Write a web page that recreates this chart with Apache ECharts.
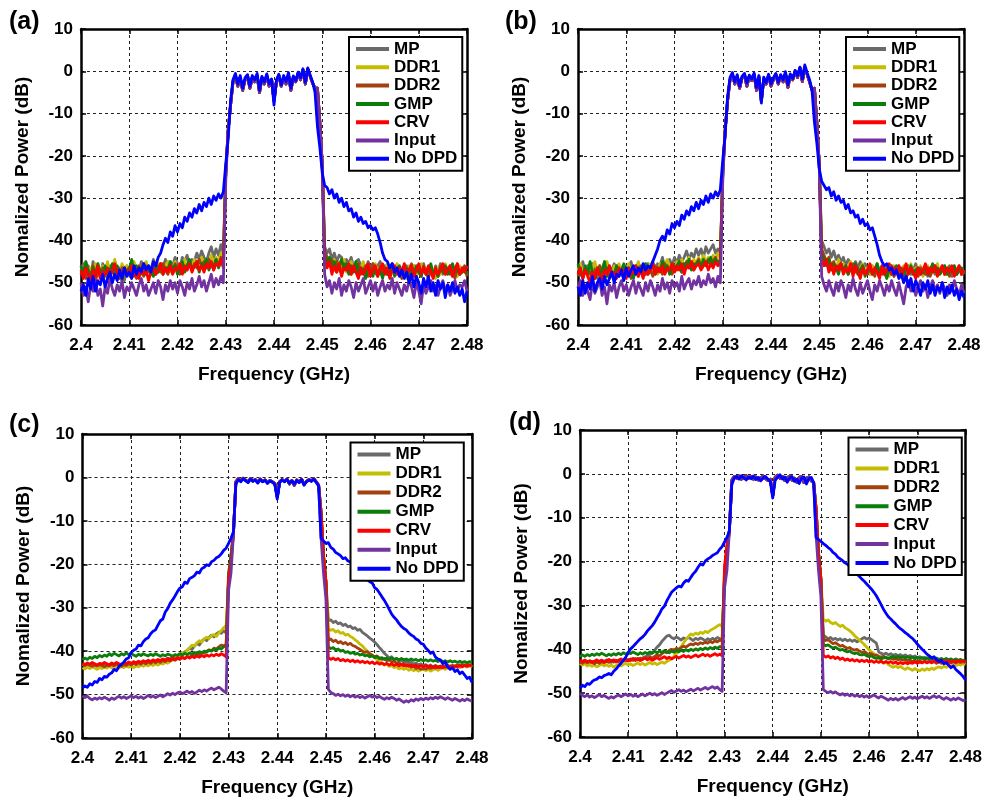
<!DOCTYPE html>
<html>
<head>
<meta charset="utf-8">
<title>DPD spectra</title>
<script src="https://cdn.jsdelivr.net/npm/echarts@6/dist/echarts.min.js"></script>
<style>
  html, body { margin: 0; padding: 0; background: #fff; }
  #chart { width: 985px; height: 807px; }
</style>
</head>
<body>
<div id="chart"></div>
<script>
// Legend names and line colours, in drawing order (last one on top)
const seriesNames = ['MP', 'DDR1', 'DDR2', 'GMP', 'CRV', 'Input', 'No DPD'];
const seriesColors = ['#6a6a6a', '#c4bd00', '#a3400c', '#0b7d0b', '#ff0000', '#7232a0', '#0000ff'];

// Frequency axis in MHz, labelled in GHz
const freqTicks = [2400, 2410, 2420, 2430, 2440, 2450, 2460, 2470, 2480];
const powerTicks = [-60, -50, -40, -30, -20, -10, 0, 10];

// Each trace is stored in three pieces, 0.5 MHz apart:
//   Lo   : 2400.0 .. 2430.5 MHz (62 values)
//   Band : 2431.0 .. 2448.5 MHz (36 values)
//   Hi   : 2449.0 .. 2480.0 MHz (63 values)

// ---------- (a) ----------
const aMpLo = [-47,-45.5,-48,-46,-49,-45,-47.5,-46,-48.5,-45.5,-47,-49,-46,-47.5,-45,-48,-46.5,-47,-49.5,-46,-47,-45.5,-48,-46.5,-47.5,-45,-46.5,-48,-46,-47,-44.5,-46,-47.5,-45.5,-46.5,-44.5,-47,-45,-46,-44,-45.5,-46.5,-44,-45,-43.5,-46,-44.5,-45,-43,-44.5,-42.5,-44,-45,-43,-41.5,-44,-42,-43.5,-41,-43,-24,-14];
const aDdr1Lo = [-46,-48,-45,-47.5,-46.5,-48.5,-45.5,-47,-49,-46,-47.5,-45,-48,-46.5,-44.5,-47,-48,-45.5,-47,-46,-48.5,-46,-45,-47.5,-46,-48,-46.5,-45,-47,-48,-46,-47.5,-45.5,-47,-48,-46,-45,-47.5,-46.5,-45,-47,-45.5,-46.5,-44.5,-47,-45.5,-46,-44.5,-46.5,-45,-44,-46,-44.5,-45.5,-43.5,-45.5,-44,-45,-43,-44.5,-24,-14];
const aDdr2Lo = [-48,-46.5,-49,-47,-48.5,-46,-49.5,-47.5,-48,-46.5,-48.5,-47,-49,-46,-48,-47.5,-49,-46.5,-48,-47,-46.5,-48.5,-47,-49,-46,-47.5,-48.5,-46,-47,-48,-46.5,-48,-46,-47.5,-45.5,-47,-48,-46,-47,-45.5,-46.5,-48,-45.5,-47,-46,-45,-47,-45.5,-46.5,-44.5,-46,-45,-46.5,-44.5,-45.5,-47,-44.5,-46,-44,-45,-24,-14];
const aGmpLo = [-46,-48.5,-45,-47,-49,-46.5,-48,-45.5,-47.5,-49,-46,-48,-47,-45.5,-48.5,-46,-47.5,-49.5,-46.5,-48,-47,-44.5,-47.5,-46,-48.5,-47,-45.5,-48,-47,-46.5,-48.5,-46,-47.5,-45.5,-48,-46.5,-47,-45,-47.5,-46,-48,-46.5,-45,-47.5,-46,-44.5,-47,-46,-45,-47.5,-45.5,-46.5,-44.5,-47,-45.5,-46,-44.5,-46.5,-45,-46,-24,-14];
const aCrvLo = [-47,-49,-46.5,-48,-50,-47,-48.5,-46,-49,-47.5,-48,-46.5,-49,-47,-45.5,-48,-47,-49,-46.5,-48,-47.5,-46,-48.5,-47,-49,-46.5,-48,-47,-49.5,-47.5,-46.5,-48,-47,-45.5,-48,-46.5,-47.5,-46,-48,-46.5,-47,-45.5,-48,-46,-47,-45.5,-47.5,-46,-45,-47,-46,-47.5,-45.5,-46.5,-45,-47,-45.5,-46,-44.5,-46.5,-24,-14];
const aInputLo = [-50,-53,-51,-54.5,-50.5,-52,-49.5,-53,-51.5,-55.5,-51,-52.5,-49,-51.5,-53,-50.5,-52,-49.5,-53.5,-51,-52,-50,-51.5,-53,-50.5,-49,-52,-50.5,-53,-51.5,-50,-52.5,-49.5,-51,-54,-50.5,-52,-49.5,-51.5,-50,-52.5,-49.5,-51,-53,-50,-51.5,-49,-52,-50.5,-48.5,-51,-49.5,-52,-50,-48,-51,-49,-50.5,-48.5,-50,-26,-14];
const aNoDpdLo = [-52,-50.5,-53,-49,-51.5,-48.5,-52,-49.5,-50.5,-48,-51,-49,-47.5,-50,-48,-49.5,-47,-49,-46.5,-48.5,-47.5,-49,-46,-48,-46.5,-47.5,-45.5,-47,-46,-47.5,-45,-46,-44,-43,-41,-39.5,-40.5,-38,-39,-36.5,-38,-36,-37,-34.5,-35.5,-33.5,-34.5,-32.5,-33.5,-31.5,-33,-31,-32,-30,-31.5,-29.5,-30.5,-29,-30,-28.5,-22,-16];
const aBand = [-8,-2.5,-1,-3.5,-1.5,-4.5,-2,-1,-4,-1.5,-2.5,-1,-5,-1.5,-3,-1,-3.5,-2,-7,-2.5,-1,-3.5,-1.5,-3,-0.8,-4.5,-1.5,-2.5,-0.5,-2,0.3,-3,0.5,-1.2,-2.8,-4];
const aNoDpdBand = [-7,-2,-0.5,-3,-1,-4,-1.5,-0.8,-3.5,-1,-2,-0.5,-4.5,-1.2,-2.5,-0.6,-3,-1.8,-8,-2,-0.7,-3.2,-1,-2.4,-0.3,-4,-1.1,-2.2,-0.2,-1.5,0.6,-2.6,0.8,-0.9,-2.5,-5];
const aMpHi = [-4,-12,-22,-41.5,-43,-42,-44.5,-43,-45,-43.5,-44,-46,-44.5,-45.5,-44,-46.5,-45,-44.5,-46,-45.5,-47,-45,-46.5,-45.5,-47,-46,-45,-47.5,-46,-48,-46.5,-45.5,-47,-46,-48,-46.5,-47.5,-46,-48.5,-47,-46,-48,-46.5,-47.5,-45.5,-48,-47,-46.5,-48.5,-46,-47.5,-45.5,-48,-46.5,-47.5,-46,-48.5,-47,-45.5,-48,-46.5,-47.5,-46];
const aDdr1Hi = [-4,-12,-22,-43,-45,-44,-46,-44.5,-47,-45,-46.5,-44.5,-47.5,-46,-45,-47,-45.5,-48,-46.5,-45,-47.5,-46,-48,-46.5,-45.5,-47.5,-46,-48.5,-47,-45.5,-48,-46.5,-47,-45.5,-48,-46.5,-47.5,-49,-46,-47.5,-46,-48.5,-47,-45.5,-47.5,-46.5,-48,-46,-47.5,-49,-46.5,-48,-47,-45.5,-47.5,-46,-48,-46.5,-48.5,-46,-47.5,-46.5,-48];
const aDdr2Hi = [-4,-12,-22,-42.5,-44,-46,-44.5,-47,-45,-46.5,-48,-45.5,-47,-46,-48,-46.5,-47.5,-45.5,-48,-47,-46,-48.5,-47,-45.5,-47.5,-48.5,-46,-47.5,-46.5,-48,-47,-45.5,-48,-46.5,-47.5,-49,-46.5,-48,-47,-45.5,-48.5,-46.5,-47.5,-48.5,-46,-47.5,-49,-46.5,-48,-47,-48.5,-46,-47.5,-48,-46.5,-48,-47,-49,-46.5,-48,-47.5,-46,-48.5];
const aGmpHi = [-4,-12,-22,-43.5,-45.5,-44,-46.5,-45,-47.5,-46,-44.5,-47,-45.5,-48,-46,-47.5,-45,-48,-46.5,-47,-49,-46,-47.5,-48.5,-46.5,-48,-47,-49,-46.5,-48,-47.5,-46,-48.5,-47,-46,-48,-47.5,-46.5,-49,-47,-48,-46,-47.5,-48.5,-46.5,-48,-47,-45.5,-48,-47,-48.5,-46.5,-47.5,-46,-48,-47,-45.5,-47.5,-46.5,-48,-47,-46.5,-48];
const aCrvHi = [-4,-12,-22,-44,-46.5,-45,-48,-46,-47.5,-45.5,-48.5,-46.5,-47,-45.5,-48,-46,-47.5,-49,-46.5,-48,-47,-45.5,-48.5,-47,-46,-48.5,-47,-45.5,-48,-46.5,-49,-47,-46,-48,-46.5,-47.5,-45.5,-48,-47,-46,-48.5,-47,-45.5,-48,-46.5,-48,-46,-47.5,-49,-46.5,-48,-47,-45.5,-48,-47,-46,-48.5,-47,-45.5,-48,-46.5,-47.5,-46];
const aInputHi = [-4,-12,-22,-48,-51,-49.5,-52.5,-50,-51.5,-49,-53,-50.5,-52,-49.5,-51,-53.5,-50,-52,-50.5,-49,-52.5,-51,-49.5,-52,-50,-53,-51,-49.5,-52,-50.5,-51.5,-49,-52.5,-50,-51.5,-53,-50.5,-52,-49.5,-51,-53.5,-50,-52,-55,-50.5,-52.5,-51,-49.5,-52,-50.5,-53,-51,-49.5,-52,-50.5,-53,-51.5,-49.5,-52,-50.5,-51,-49.5,-52];
const aNoDpdHi = [-13,-18,-24,-27,-27.5,-29,-28,-30,-29,-31,-30,-32,-31,-33,-32.5,-34.5,-33.5,-35.5,-34.5,-36,-35.5,-37,-36.5,-37.5,-37,-38.5,-40.5,-43,-44.5,-45,-46.5,-45.5,-47.5,-46.5,-48.5,-47,-49,-47.5,-50,-48,-51,-48.5,-50,-52.5,-49,-51,-48.5,-52,-50,-53,-49.5,-51.5,-50,-53.5,-50.5,-52,-50,-52.5,-51,-53,-51.5,-54.5,-52];

// ---------- (b) ----------
const bMpLo = [-46.5,-48,-45,-47.5,-46,-48.5,-45.5,-47,-49,-46,-47.5,-45,-48,-46.5,-47,-45.5,-48,-46,-47.5,-49,-46,-47,-45,-48,-46.5,-45.5,-47.5,-46,-48,-45.5,-46.5,-45,-47,-45.5,-46,-44,-46.5,-45,-44.5,-46,-44,-45.5,-43.5,-45,-44,-42.5,-44.5,-43,-44,-42,-43.5,-42,-44,-41.5,-43,-42,-41,-43,-42,-43.5,-24,-14];
const bDdr1Lo = [-47,-45.5,-48,-46,-47.5,-49,-46.5,-45,-47.5,-46,-48,-46.5,-45,-47,-48.5,-46,-47,-45.5,-48,-46.5,-47.5,-45.5,-48,-46,-47,-45,-47.5,-46.5,-48,-46,-45.5,-47,-46,-48,-45.5,-47,-46,-44.5,-46.5,-45.5,-47,-45,-46,-44.5,-46.5,-45,-44,-46,-44.5,-45.5,-44,-45.5,-43.5,-45,-44,-45.5,-43.5,-44.5,-43,-44.5,-24,-14];
const bDdr2Lo = [-48.5,-47,-49,-46.5,-48,-47.5,-49.5,-47,-48,-46,-48.5,-47,-46.5,-49,-47.5,-48,-46,-48.5,-47,-46.5,-48,-47,-49,-46.5,-47.5,-48.5,-46,-47.5,-48,-46.5,-47,-48.5,-46,-47.5,-46.5,-48,-45.5,-47,-46.5,-48,-46,-47,-45.5,-47.5,-46,-45,-46.5,-45,-47,-45.5,-44.5,-46.5,-45,-46,-44.5,-46,-45,-44,-45.5,-44.5,-24,-14];
const bGmpLo = [-45.5,-47.5,-49,-46,-48,-45,-47.5,-49,-46.5,-48,-47,-45,-48.5,-46,-47.5,-49,-46,-48,-47,-45.5,-48,-46.5,-47.5,-49,-46,-48,-46.5,-47.5,-45.5,-48,-47,-45.5,-48,-46.5,-47,-45,-47.5,-46,-48,-45.5,-47,-46,-45,-47.5,-45.5,-46.5,-44.5,-47,-45.5,-46,-45,-46.5,-44.5,-46,-45,-44,-46,-44.5,-45.5,-44.5,-24,-14];
const bCrvLo = [-48,-46.5,-49,-47,-48.5,-50,-47.5,-49,-46.5,-48,-49.5,-47,-48,-46,-48.5,-47.5,-49,-46.5,-48,-47,-49,-46.5,-48,-47.5,-46,-48.5,-47,-49,-46.5,-48,-47,-45.5,-48,-46.5,-47.5,-46,-48,-46.5,-47,-45.5,-47.5,-46,-47,-45.5,-48,-46,-46.5,-45,-47,-46,-45.5,-47,-46,-45,-47,-45.5,-46.5,-45,-46,-45.5,-24,-14];
const bInputLo = [-51,-49.5,-53,-50.5,-52,-54,-50,-52.5,-51,-49.5,-53,-51,-55,-50.5,-52,-50,-53.5,-51,-49.5,-52,-50.5,-53,-51,-49.5,-52.5,-50,-51.5,-53,-50,-52,-49.5,-51,-53,-50.5,-52,-49,-51.5,-50,-52.5,-49.5,-51,-50,-52,-48.5,-51.5,-50,-49,-51.5,-49.5,-50.5,-48.5,-51,-49.5,-50.5,-48,-50,-49,-51,-48.5,-50,-26,-14];
const bNoDpdLo = [-51,-53,-49.5,-52.5,-50,-51.5,-48.5,-52,-50,-49,-51.5,-48.5,-50.5,-49,-47.5,-50,-48,-48.5,-47,-49.5,-46.5,-48.5,-47,-46,-48,-46.5,-47.5,-45.5,-47,-46,-46.5,-45,-43.5,-42,-40,-39,-40,-37.5,-38.5,-36,-37,-35.5,-36.5,-34,-35,-33,-34,-32,-33,-31,-32.5,-30.5,-31.5,-29.5,-31,-29,-30,-28.5,-29.5,-28,-21,-15];
const bBand = [-7,-2,-0.8,-3,-1.2,-4,-1.5,-0.8,-3.5,-1.2,-2.2,-0.8,-4.5,-1.3,-7,-1.8,-3,-1,-3.5,-2,-0.8,-3,-1,-2.5,-0.5,-3.8,-1,-2,0,-1.5,0.8,-2.4,1,-0.8,-2.5,-4.5];
const bNoDpdBand = [-6,-1.5,-0.3,-2.5,-0.8,-3.5,-1.2,-0.5,-2.8,-0.9,-1.8,-0.4,-3.8,-1,-7.5,-1.4,-2.6,-0.7,-3,-1.5,-0.5,-2.6,-0.8,-2,-0.1,-3.2,-0.6,-1.7,0.2,-1,1,-1.8,1.5,-0.4,-2,-4.5];
const bMpHi = [-4,-12,-22,-40,-41.5,-43,-42,-44,-42.5,-44.5,-43.5,-45,-44,-46,-44.5,-45.5,-47,-45,-46.5,-45,-47,-45.5,-46.5,-48,-46,-47,-45.5,-47.5,-46,-48,-46.5,-47.5,-46,-48.5,-47,-46,-48,-46.5,-47.5,-46,-48,-47,-45.5,-48,-46.5,-47.5,-46,-48.5,-47,-46,-48,-46.5,-47.5,-46,-48,-47,-46,-48.5,-46.5,-47.5,-46,-48,-47];
const bDdr1Hi = [-4,-12,-22,-42.5,-44,-45.5,-44,-46.5,-45,-47,-44.5,-46.5,-45.5,-47.5,-46,-45,-47.5,-46,-48,-46.5,-45.5,-47.5,-46.5,-48,-46,-47,-45.5,-48,-46.5,-47.5,-46,-48.5,-47,-46,-48,-46.5,-47.5,-46,-48,-47,-45.5,-48,-46.5,-47.5,-46,-48.5,-47,-46,-48,-46.5,-47.5,-45.5,-48,-47,-46,-48,-46.5,-47.5,-46,-48,-47,-46.5,-48];
const bDdr2Hi = [-4,-12,-22,-42,-43.5,-45,-44,-46.5,-45,-47,-46,-45.5,-47.5,-46,-48,-46.5,-45.5,-47.5,-46.5,-48.5,-46,-47.5,-48,-46.5,-47,-48.5,-46,-47.5,-48,-46.5,-48,-47,-46,-48.5,-47,-48,-46.5,-47.5,-49,-47,-46.5,-48,-47,-48.5,-46.5,-47.5,-48,-46.5,-48.5,-47,-46,-48,-47.5,-46.5,-48,-47,-48.5,-46.5,-47.5,-48,-46.5,-48,-47.5];
const bGmpHi = [-4,-12,-22,-43,-44.5,-46,-44.5,-47,-45.5,-46.5,-48,-45.5,-47,-46,-48,-46.5,-47.5,-45.5,-48,-47,-46,-48.5,-47,-46.5,-48,-47,-45.5,-48,-46.5,-47.5,-49,-46.5,-48,-47,-46,-48,-47,-48.5,-46.5,-47.5,-46,-48,-47,-46.5,-48,-47.5,-46,-48,-47,-45.5,-47.5,-46.5,-48,-47,-46,-48,-46.5,-47.5,-46,-48,-47,-46.5,-48];
const bCrvHi = [-4,-12,-22,-44.5,-46,-44.5,-47.5,-45.5,-48,-46,-47,-45.5,-48,-46.5,-47.5,-45.5,-48.5,-46,-47.5,-49,-46.5,-48,-47,-45.5,-48,-46.5,-47.5,-49,-46,-48,-47,-45.5,-48,-46.5,-47.5,-46,-48.5,-47,-45.5,-48,-46.5,-47.5,-49,-46.5,-48,-47,-45.5,-48,-46.5,-47.5,-46,-48.5,-47,-46,-48,-46.5,-47.5,-46,-48.5,-47,-46,-48,-47];
const bInputHi = [-4,-12,-22,-48.5,-50.5,-52,-49.5,-51.5,-53,-50,-52,-49.5,-51,-53.5,-50.5,-52,-49,-51.5,-53,-50,-52.5,-51,-49.5,-52,-54,-50.5,-52,-49.5,-51,-53,-50.5,-52,-49.5,-51.5,-53,-50,-52.5,-55,-51,-49.5,-52,-50.5,-53,-51,-49.5,-52,-50.5,-53.5,-51,-49.5,-52,-50.5,-52.5,-50,-51.5,-53,-50.5,-52,-49.5,-51.5,-53,-50.5,-52.5];
const bNoDpdHi = [-12,-17,-23,-26,-27,-28,-27.5,-29.5,-28.5,-30.5,-29.5,-31,-30.5,-32.5,-31.5,-33.5,-33,-34.5,-34,-36,-35,-36.5,-36,-37.5,-37,-39,-41,-43.5,-45,-46,-45.5,-47,-46.5,-48,-47,-49,-48,-50,-48.5,-51,-49,-52,-49.5,-51,-53,-50,-51.5,-49.5,-52.5,-50.5,-53,-51,-52,-50,-53.5,-51,-52.5,-50.5,-53,-51.5,-54,-52,-53.5];

// ---------- (c) ----------
const cMpLo = [-43,-43.4,-43.1,-43.5,-43.2,-43.6,-43.3,-43.5,-43.1,-43.4,-43,-43.3,-43.6,-43.2,-43.5,-43.1,-43.3,-42.9,-43.2,-42.8,-43.1,-42.7,-43,-42.6,-42.9,-42.5,-42.8,-42.4,-42.6,-42.2,-42.5,-42.1,-42.3,-41.9,-42.1,-41.6,-41.8,-41.3,-41.5,-41,-41.2,-40.6,-40.2,-39.8,-39.3,-39.6,-38.8,-38.2,-38.6,-37.7,-37.2,-37.6,-36.8,-36.3,-36.7,-36,-35.6,-35.9,-35.3,-35.8,-24,-18];
const cDdr1Lo = [-43.8,-44.1,-43.7,-44,-43.6,-43.9,-44.2,-43.8,-44,-43.6,-43.9,-43.5,-43.8,-44.1,-43.7,-43.9,-43.5,-43.8,-43.4,-43.7,-43.5,-43.8,-43.4,-43.6,-43.2,-43.5,-43.1,-43.4,-43,-43.3,-42.9,-43.2,-42.8,-43,-42.6,-42.8,-42.3,-42,-41.6,-41.2,-40.8,-40.3,-40.6,-39.8,-39.2,-38.6,-38.9,-38.1,-37.6,-37.9,-37.2,-36.8,-37.1,-36.4,-36.2,-36.6,-35.8,-35.3,-34.6,-34.1,-24,-18];
const cDdr2Lo = [-43,-43.3,-42.9,-43.2,-43.5,-43.1,-43.4,-43,-43.3,-43.6,-43.2,-43.4,-43,-43.3,-42.9,-43.2,-43.5,-43.1,-43.3,-42.9,-43.2,-42.8,-43.1,-42.7,-43,-42.6,-42.9,-42.5,-42.8,-42.4,-42.7,-42.3,-42.6,-42.2,-42.4,-42,-42.3,-41.9,-42.1,-41.7,-41.9,-41.5,-41.7,-41.2,-41.4,-40.9,-41.1,-40.6,-40.8,-40.3,-40.5,-40,-39.7,-39.9,-39.3,-39.5,-39,-38.6,-38.8,-38.5,-23,-18];
const cGmpLo = [-42,-41.6,-41.9,-41.4,-41.7,-41.2,-41.5,-41,-41.3,-40.9,-41.2,-40.6,-41,-40.5,-40.8,-41.1,-40.6,-40.9,-40.4,-40.8,-40.5,-40.9,-41.2,-40.7,-41,-40.6,-40.9,-41.1,-40.7,-41,-40.6,-40.9,-41.2,-40.8,-41.1,-40.7,-40.9,-41.2,-40.8,-41,-40.6,-40.9,-40.5,-40.8,-40.4,-40.7,-40.3,-40.5,-40.1,-40.4,-40,-40.2,-39.8,-40,-39.6,-39.8,-39.3,-39.5,-39,-38.8,-22,-18];
const cCrvLo = [-42.8,-43.1,-42.7,-43,-42.6,-42.9,-43.2,-42.8,-43,-42.6,-42.9,-43.2,-42.7,-43,-42.6,-42.9,-43.1,-42.7,-42.9,-42.5,-42.8,-42.4,-42.7,-42.3,-42.6,-42.2,-42.5,-42.1,-42.4,-42,-42.3,-41.9,-42.2,-41.8,-42.1,-41.7,-42,-41.6,-41.9,-41.5,-41.8,-41.4,-41.7,-41.3,-41.6,-41.2,-41.5,-41.1,-41.4,-41,-41.3,-40.9,-41.2,-40.8,-41.1,-40.7,-41,-40.6,-40.9,-41.3,-23,-19.5];
const cInputLo = [-50.3,-50.7,-50.4,-50.9,-51.2,-50.8,-51.1,-50.7,-51,-50.6,-50.9,-51.3,-50.8,-51.1,-50.7,-50.4,-50.8,-50.5,-50.9,-50.6,-50.3,-50.7,-50.4,-50.8,-50.5,-50.9,-50.6,-50.2,-50.6,-50.3,-50.7,-50.4,-50.1,-50.5,-50.2,-49.8,-50.1,-49.7,-50,-49.6,-49.4,-49.8,-49.5,-49.2,-49.6,-49.3,-49.7,-49.4,-49,-49.3,-48.9,-49.2,-48.8,-48.5,-48.9,-48.6,-48.3,-48.7,-49.2,-49.6,-26,-22];
const cNoDpdLo = [-48.5,-48,-48.3,-47.5,-47.8,-47,-47.2,-46.3,-46.6,-45.8,-46,-45.3,-45,-44.2,-44.5,-43.5,-43,-42.5,-41.8,-41.5,-40.3,-39.8,-39.5,-38.6,-38.8,-37.8,-37.2,-36.9,-36,-35.4,-35.1,-34,-33,-32.6,-31,-30.2,-29,-28.2,-27.3,-26.3,-25.5,-25.2,-24.1,-24.4,-23.3,-23,-22.6,-21.8,-22,-21,-20.7,-20.1,-20.3,-19.4,-19.1,-18.5,-18.2,-17.6,-16.8,-16.3,-15.2,-14];
const cBand = [-13,-1,-0.3,-0.8,-0.2,-0.6,-1,-0.3,-0.8,-0.5,-1.1,-0.4,-0.9,-0.6,-1.2,-0.7,-1,-1.4,-4.5,-1,-0.5,-0.9,-0.4,-1.5,-0.7,-1.8,-0.6,-1.1,-0.4,-1.6,-0.9,-0.5,-0.8,-0.3,-1,-1.8];
const cNoDpdBand = [-12.5,-1.5,-0.5,-1,-0.3,-0.8,-1.2,-0.4,-0.9,-0.6,-1.3,-0.5,-1,-0.7,-1.4,-0.8,-1.1,-1.6,-5,-1.2,-0.6,-1,-0.5,-1.3,-0.8,-1.5,-0.7,-1.2,-0.5,-1.8,-1,-0.6,-0.9,-0.4,-1.1,-2];
const cMpHi = [-8,-18,-24,-33,-32.8,-33.4,-33.1,-33.7,-33.5,-34.1,-33.8,-34.4,-34.2,-34.8,-34.6,-35.2,-35,-35.7,-36.1,-36.5,-37,-37.4,-37.9,-38.5,-39.2,-39.8,-40.5,-41,-41.6,-41.3,-42,-41.7,-42.3,-42,-42.6,-42.3,-42.8,-42.5,-43,-42.7,-43.2,-42.9,-43.4,-43.1,-43.5,-43.2,-43.6,-43.3,-43.7,-43.4,-43.8,-43.5,-43.2,-43.6,-43.3,-43.7,-43.4,-43.1,-43.5,-43.2,-43.6,-43.3,-43.5];
const cDdr1Hi = [-8,-18,-24,-34.8,-35.2,-35,-35.6,-35.3,-35.9,-35.7,-36.3,-36.1,-36.6,-36.9,-37.4,-37.8,-38.4,-38.8,-39.5,-40,-40.6,-41.1,-41.5,-42,-42.4,-42.9,-43.2,-43,-43.5,-43.3,-43.8,-43.6,-44.1,-43.8,-44.2,-43.9,-44.4,-44.1,-44.5,-44.2,-44.6,-44.3,-44.1,-44.5,-44.2,-44.6,-44.3,-44,-44.4,-44.1,-43.8,-44.2,-43.9,-43.6,-44,-43.7,-43.4,-43.8,-43.5,-43.2,-43.6,-43.3,-43.7];
const cDdr2Hi = [-8,-18,-24,-37.5,-37.2,-37.8,-37.5,-38.1,-37.8,-38.3,-38,-38.5,-38.2,-38.7,-38.9,-39.3,-39.6,-40,-40.3,-40.1,-40.6,-40.9,-41.3,-41.1,-41.6,-41.9,-41.7,-42.2,-42,-42.5,-42.3,-42.8,-42.6,-43.1,-42.9,-43.4,-43.2,-43.7,-43.5,-44,-43.8,-44.2,-43.9,-44.1,-43.8,-44,-43.7,-43.9,-43.6,-43.8,-43.5,-43.7,-43.4,-43.6,-43.3,-43.5,-43.2,-43.4,-43.1,-43.3,-43,-43.2,-43.1];
const cGmpHi = [-8,-18,-24,-39,-39.4,-39.2,-39.7,-39.5,-40,-39.8,-40.3,-40.1,-40.5,-40.3,-40.7,-40.5,-40.9,-40.7,-41.1,-40.9,-41.3,-41.1,-41.5,-41.3,-41.7,-41.5,-41.9,-41.6,-41.9,-41.6,-41.9,-41.7,-42,-41.7,-42,-41.8,-42.1,-41.8,-42.1,-41.9,-42.2,-41.9,-42.2,-42,-42.3,-42,-42.3,-42.1,-42.4,-42.1,-42.4,-42.2,-42.5,-42.2,-42.5,-42.3,-42.6,-42.3,-42.6,-42.4,-42.7,-42.4,-42.6];
const cCrvHi = [-8,-18,-24,-41.5,-41.9,-41.6,-42,-41.7,-42.2,-41.9,-42.3,-42,-42.4,-42.1,-42.5,-42.2,-42.6,-42.3,-42.7,-42.4,-42.8,-42.5,-42.9,-42.6,-43,-42.7,-43.1,-42.8,-43.2,-42.9,-43.3,-43,-43.4,-43.1,-43.4,-43.1,-43.5,-43.2,-43.5,-43.2,-43.6,-43.3,-43.6,-43.3,-43.7,-43.4,-43.7,-43.4,-43.8,-43.5,-43.8,-43.5,-43.7,-43.4,-43.7,-43.4,-43.6,-43.3,-43.6,-43.3,-43.5,-43.2,-43.4];
const cInputHi = [-14,-22,-28,-48.8,-49.5,-49.8,-50.2,-49.9,-50.3,-50,-50.4,-50.1,-50.5,-50.2,-50.6,-50.3,-50.7,-50.4,-50.8,-50.5,-50.2,-50.6,-50.3,-50.7,-50.4,-50.8,-51.1,-50.7,-51,-50.6,-50.9,-51.3,-51,-51.4,-51.8,-51.4,-51.7,-51.2,-51.5,-51,-51.3,-50.9,-51.2,-50.8,-51.1,-50.7,-51,-50.6,-50.9,-50.5,-50.8,-51.1,-50.7,-51,-51.3,-50.9,-51.2,-51.5,-51.1,-51.4,-51,-51.3,-51.5];
const cNoDpdHi = [-14,-14.6,-15.2,-15,-16.1,-16.5,-17.3,-17.6,-18,-18.7,-18.5,-19.2,-19.5,-19.9,-20.5,-20.6,-21.5,-22.2,-22.8,-23.5,-24,-24.3,-25.4,-25.8,-26.6,-27.5,-28.3,-29.3,-30.4,-31.5,-32.2,-32.8,-33.6,-34.3,-34.8,-35.1,-35.8,-36.3,-36.6,-37.2,-37.5,-38.2,-38.4,-39.3,-39.8,-40.5,-40.2,-41.4,-41.8,-42,-42.9,-42.5,-43.6,-44.2,-43.8,-44.7,-44.3,-45.2,-44.8,-45.5,-46.3,-46,-47.2];

// ---------- (d) ----------
const dMpLo = [-42.6,-42.9,-42.5,-42.8,-43.1,-42.7,-43,-42.6,-42.9,-42.5,-42.8,-42.4,-42.7,-43,-42.6,-42.9,-42.5,-42.8,-42.4,-42.7,-42.3,-42.6,-42.2,-42.5,-42.1,-42.4,-42,-41.7,-41.5,-41.2,-40.8,-40.2,-39.5,-39,-38.2,-37.6,-37,-36.8,-37.3,-37.6,-37.2,-37.5,-37.9,-37.4,-37.7,-37.3,-37.6,-38,-37.5,-37.8,-37.4,-37.7,-38.1,-37.6,-37.9,-37.5,-37.8,-37.3,-37.6,-37.9,-24,-18];
const dDdr1Lo = [-43.2,-43.6,-43.3,-43.8,-43.5,-43.9,-43.6,-44,-43.7,-43.4,-43.8,-43.5,-43.9,-43.6,-44.1,-43.7,-43.4,-43.8,-43.5,-43.2,-43.6,-43.3,-43.7,-43.4,-43.1,-43.5,-43.2,-43.6,-43.3,-43,-43.4,-43.1,-43.5,-43.2,-42.9,-43.2,-42.8,-42.5,-42.1,-41.6,-41,-40.2,-39.4,-38.5,-37.8,-37.1,-36.5,-36.8,-36.3,-36.6,-36.1,-36.4,-35.9,-36.2,-35.7,-35.4,-35.1,-34.7,-34.4,-34.8,-24,-18];
const dDdr2Lo = [-42.9,-43.2,-42.8,-43.1,-42.7,-43,-43.3,-42.9,-43.2,-42.8,-43.1,-42.7,-43,-42.6,-42.9,-42.5,-42.8,-42.4,-42.7,-42.3,-42.6,-42.2,-42.5,-42.1,-42.4,-42,-42.3,-41.9,-42.2,-41.8,-42,-41.6,-41.3,-41.5,-41,-40.6,-40.8,-40.3,-40,-40.2,-39.8,-40,-39.6,-39.3,-39.5,-39.1,-38.8,-39,-38.6,-38.9,-38.5,-38.7,-38.4,-38.6,-38.2,-38.5,-38.1,-38.3,-37.9,-38.1,-23,-18];
const dGmpLo = [-41.7,-41.3,-41.6,-41.2,-41.5,-41.1,-41.4,-41,-41.3,-40.9,-41.2,-41.5,-41.1,-41.4,-41,-41.3,-40.9,-41.2,-40.8,-41.1,-40.7,-41,-40.6,-40.9,-41.2,-40.8,-41.1,-40.7,-41,-40.6,-40.9,-40.5,-40.8,-40.4,-40.7,-40.3,-40.6,-40.8,-40.4,-40.7,-40.3,-40.6,-40.2,-40.5,-40.1,-40.4,-40,-40.3,-39.9,-40.2,-39.8,-40.1,-39.7,-40,-39.6,-39.9,-39.5,-39.8,-39.4,-39.6,-22,-17];
const dCrvLo = [-42.4,-42.8,-42.5,-42.9,-42.6,-43,-42.7,-42.4,-42.8,-42.5,-42.9,-42.6,-42.3,-42.7,-42.4,-42.8,-42.5,-42.2,-42.6,-42.3,-42.7,-42.4,-42.1,-42.5,-42.2,-42.6,-42.3,-42,-42.4,-42.1,-42.5,-42.2,-41.9,-42.3,-42,-41.7,-42.1,-41.8,-42.2,-41.9,-41.6,-42,-41.7,-41.4,-41.8,-41.5,-41.9,-41.6,-41.3,-41.7,-41.4,-41.1,-41.5,-41.2,-41.6,-41.3,-41,-41.4,-41.1,-41.5,-21,-16];
const dInputLo = [-50,-50.5,-50.8,-50.4,-50.9,-50.6,-51,-50.7,-50.3,-50.8,-50.5,-50.9,-51.2,-50.8,-51.1,-50.7,-50.4,-50.8,-50.5,-50.2,-50.6,-50.3,-50.7,-50.4,-50.8,-50.5,-50.2,-50.6,-50.3,-50,-50.4,-50.1,-50.5,-50.2,-49.9,-50.3,-50,-49.7,-49.4,-49.8,-49.5,-49.2,-49.6,-49.3,-49.7,-49.4,-49.1,-49.5,-49.2,-48.9,-49.3,-49,-48.7,-49.1,-48.8,-48.5,-48.9,-48.6,-49.2,-49.6,-26,-22];
const dNoDpdLo = [-48.9,-48.2,-48.5,-47.8,-48,-47.4,-47,-46.8,-46.3,-46.5,-46,-45.8,-45.5,-45.8,-45,-44.5,-43.8,-43.2,-42.5,-41.8,-40.8,-39.9,-39.4,-38.8,-38.2,-37.6,-37.2,-36.6,-35.8,-35.2,-34.6,-33.8,-32.8,-31.9,-30.8,-30.2,-29,-28,-27,-26.5,-26,-25.6,-25.8,-24.9,-24.3,-24.5,-23.6,-22.8,-22.2,-21.3,-20.5,-20.8,-19.9,-19.4,-19.1,-18.6,-18.3,-18,-17.2,-16.6,-15.5,-14.5];
const dBand = [-13,-1.5,-0.6,-1,-0.5,-1.2,-0.8,-0.4,-1,-0.6,-1.2,-0.7,-1.4,-0.9,-0.5,-1.1,-1.5,-1.2,-5,-0.8,-0.3,-1,-0.6,-1.5,-0.9,-0.5,-1.4,-1,-1.9,-0.8,-0.6,-2,-1,-0.7,-1.6,-2];
const dNoDpdBand = [-13,-2.5,-1,-0.6,-1.2,-0.4,-0.9,-1.4,-0.7,-1.1,-0.5,-1.3,-0.8,-1.6,-1,-0.6,-1.2,-1.8,-5.5,-1.5,-0.8,-0.2,-1.2,-0.7,-1.9,-1,-0.6,-1.7,-1.2,-2.2,-1,-0.7,-2.3,-1.1,-0.8,-2];
const dMpHi = [-8,-18,-24,-36.8,-37.2,-37.6,-37.3,-37.8,-37.5,-37.9,-37.6,-38,-37.7,-38.1,-37.8,-38.2,-37.9,-38.3,-38,-37.6,-37.3,-37.7,-37.4,-37.8,-38.2,-38.6,-40.6,-40.9,-41.2,-40.9,-41.3,-41,-41.4,-41.1,-41.5,-41.2,-41.6,-41.3,-41.7,-41.4,-41.8,-41.5,-42,-41.7,-42.1,-41.8,-42.3,-42,-42.5,-42.2,-42.6,-42.3,-42.8,-42.5,-42.9,-42.6,-43.1,-42.8,-43.2,-42.9,-43.2,-43,-43.2];
const dDdr1Hi = [-8,-18,-24,-33.2,-33.6,-33.3,-33.9,-34.2,-33.9,-34.4,-34.8,-34.5,-35.1,-35.4,-35.8,-36.3,-36.9,-37.4,-37.9,-38.4,-38.9,-39.5,-40.1,-40.6,-41,-41.6,-42.1,-42.7,-43.2,-42.9,-43.5,-43.8,-44.1,-43.8,-44.2,-43.9,-44.3,-44.6,-44.2,-44.5,-44.8,-44.4,-44.7,-44.9,-44.5,-44.8,-44.4,-44.7,-44.3,-44.6,-44.2,-44,-44.3,-43.9,-44.1,-43.7,-43.9,-43.5,-43.8,-43.4,-43.6,-43.3,-43.5];
const dDdr2Hi = [-8,-18,-24,-37.6,-38,-37.8,-38.3,-38.7,-38.5,-38.9,-39.3,-39.1,-39.5,-39.8,-39.6,-40,-40.2,-40,-40.4,-40.7,-40.5,-40.9,-41.2,-41,-41.4,-41.3,-41.6,-41.8,-41.6,-42,-42.2,-42,-42.3,-42.1,-42.4,-42.2,-42.5,-42.3,-42.6,-42.4,-42.8,-42.5,-42.9,-42.6,-43,-42.7,-43,-42.8,-43.1,-42.8,-43.2,-42.9,-43.2,-42.9,-43.2,-42.9,-43.1,-42.8,-43.1,-42.8,-43,-42.8,-43];
const dGmpHi = [-8,-18,-24,-38.8,-39.2,-39,-39.4,-39.7,-39.5,-39.9,-40.2,-40,-40.4,-40.6,-40.4,-40.8,-41,-40.8,-41.2,-41.3,-41.1,-41.5,-41.7,-41.5,-41.9,-42.1,-41.9,-42.2,-42,-41.8,-42.1,-41.8,-41.6,-41.9,-41.6,-41.9,-41.7,-42,-41.7,-42,-41.8,-42.1,-41.8,-42.1,-41.9,-42.2,-41.9,-42.2,-42,-42.3,-42,-42.3,-42.1,-42.4,-42.1,-42.4,-42.2,-42.5,-42.2,-42.5,-42.3,-42.6,-42.4];
const dCrvHi = [-8,-18,-24,-41.4,-41.8,-41.5,-42,-41.7,-42.1,-41.8,-42.3,-42,-42.5,-42.2,-42.6,-42.3,-42.7,-42.4,-42.8,-42.5,-42.8,-42.5,-42.9,-42.6,-43,-42.7,-43,-42.7,-43.1,-42.8,-43.1,-42.8,-43.2,-42.9,-43.3,-43,-43.3,-43,-43.3,-43,-43.2,-42.9,-43.2,-42.9,-43.1,-42.8,-43.1,-42.8,-43,-42.7,-43,-42.7,-42.9,-42.6,-42.9,-42.6,-42.9,-42.6,-42.9,-42.6,-42.8,-42.6,-42.8];
const dInputHi = [-14,-22,-28,-49.2,-49.6,-49.9,-49.6,-50,-49.7,-50.1,-50.4,-50.1,-50.5,-50.2,-50.6,-50.3,-50.7,-50.4,-50.8,-50.5,-50.9,-50.6,-51,-50.7,-50.4,-50.8,-51.1,-50.7,-51,-51.3,-51.6,-51.2,-51.5,-51.2,-51.6,-51.3,-51,-51.4,-51.1,-50.8,-51.2,-50.9,-51.3,-51,-50.7,-51.1,-50.8,-51.2,-50.9,-50.6,-51,-50.7,-51.1,-51.4,-51,-51.3,-51.6,-51.2,-51.5,-51.1,-51.4,-51.7,-51.5];
const dNoDpdHi = [-14.5,-15,-15.4,-15.9,-16.3,-16.8,-17.2,-17.9,-18.3,-19,-19.4,-19.8,-20.3,-20.6,-21.1,-21.7,-22.3,-22.9,-23.4,-24,-24.5,-25.1,-25.7,-26.3,-27,-27.8,-28.8,-29.8,-30.9,-31.8,-32.6,-33.1,-33.7,-34.2,-34.8,-35.3,-35.7,-36.2,-36.6,-37.1,-37.5,-38.1,-38.8,-39.4,-40,-40.5,-41.1,-41.5,-42,-41.7,-42.4,-42.8,-42.5,-43.3,-43,-43.6,-44.2,-43.8,-44.6,-45.1,-45.6,-46.2,-47];

// Segment start frequencies (MHz) and sample spacing
const LO_START = 2400, BAND_START = 2431, HI_START = 2449, STEP = 0.5;

function toPoints(vals, start) {
  return vals.map((v, k) => [start + k * STEP, v]);
}
function trace(lo, band, hi) {
  return toPoints(lo, LO_START).concat(toPoints(band, BAND_START), toPoints(hi, HI_START));
}

// Panel layout: plot box in pixels, legend position, label position
const panels = [
  { tag: '(a)', box: [81, 29, 386, 296], legend: [349, 37], legendGap: 0.3, tagPos: [9, 10],
    lo: [aMpLo, aDdr1Lo, aDdr2Lo, aGmpLo, aCrvLo, aInputLo, aNoDpdLo],
    band: [aBand, aBand, aBand, aBand, aBand, aBand, aNoDpdBand],
    hi: [aMpHi, aDdr1Hi, aDdr2Hi, aGmpHi, aCrvHi, aInputHi, aNoDpdHi] },
  { tag: '(b)', box: [578, 29, 386, 296], legend: [846, 37], legendGap: 0.3, tagPos: [505, 10],
    lo: [bMpLo, bDdr1Lo, bDdr2Lo, bGmpLo, bCrvLo, bInputLo, bNoDpdLo],
    band: [bBand, bBand, bBand, bBand, bBand, bBand, bNoDpdBand],
    hi: [bMpHi, bDdr1Hi, bDdr2Hi, bGmpHi, bCrvHi, bInputHi, bNoDpdHi] },
  { tag: '(c)', box: [82.5, 434, 389.5, 304], legend: [350.5, 442.5], legendGap: 1.05, tagPos: [9, 413],
    lo: [cMpLo, cDdr1Lo, cDdr2Lo, cGmpLo, cCrvLo, cInputLo, cNoDpdLo],
    band: [cBand, cBand, cBand, cBand, cBand, cBand, cNoDpdBand],
    hi: [cMpHi, cDdr1Hi, cDdr2Hi, cGmpHi, cCrvHi, cInputHi, cNoDpdHi] },
  { tag: '(d)', box: [580, 430, 389, 307], legend: [848.5, 437.5], legendGap: 0.9, tagPos: [509, 411],
    lo: [dMpLo, dDdr1Lo, dDdr2Lo, dGmpLo, dCrvLo, dInputLo, dNoDpdLo],
    band: [dBand, dBand, dBand, dBand, dBand, dBand, dNoDpdBand],
    hi: [dMpHi, dDdr1Hi, dDdr2Hi, dGmpHi, dCrvHi, dInputHi, dNoDpdHi] }
];

const FONT = "'Liberation Sans', Arial, Helvetica, sans-serif";
const tickLabel = { fontFamily: FONT, fontWeight: 'bold', fontSize: 17, color: '#000' };
const axisLineStyle = { onZero: false, lineStyle: { color: '#000', width: 2.5 } };
const innerTick = { show: true, inside: true, length: 5, lineStyle: { color: '#000', width: 1.5 } };
const dotted = { show: true, lineStyle: { color: '#222', width: 1, type: [3, 3] } };

const grids = [], xAxes = [], yAxes = [], legends = [], series = [], graphics = [];

panels.forEach((p, i) => {
  const [left, top, width, height] = p.box;
  grids.push({ left, top, width, height, containLabel: false });

  const xBase = { type: 'value', gridIndex: i, min: freqTicks[0], max: freqTicks[freqTicks.length - 1], interval: 10 };
  xAxes.push(Object.assign({}, xBase, {
    position: 'bottom',
    name: 'Frequency (GHz)', nameLocation: 'middle', nameGap: 40,
    nameTextStyle: { fontFamily: FONT, fontWeight: 'bold', fontSize: 19, color: '#000' },
    axisLine: axisLineStyle, axisTick: innerTick, splitLine: dotted,
    axisLabel: Object.assign({ margin: 12, formatter: v => String(v / 1000) }, tickLabel)
  }));
  xAxes.push(Object.assign({}, xBase, {
    position: 'top', axisLine: axisLineStyle, axisTick: innerTick,
    splitLine: { show: false }, axisLabel: { show: false }
  }));

  const yBase = { type: 'value', gridIndex: i, min: powerTicks[0], max: powerTicks[powerTicks.length - 1], interval: 10 };
  yAxes.push(Object.assign({}, yBase, {
    position: 'left',
    name: 'Nomalized Power (dB)', nameLocation: 'middle', nameGap: 49,
    nameTextStyle: { fontFamily: FONT, fontWeight: 'bold', fontSize: 19, color: '#000' },
    axisLine: axisLineStyle, axisTick: innerTick, splitLine: dotted,
    axisLabel: Object.assign({ margin: 8 }, tickLabel)
  }));
  yAxes.push(Object.assign({}, yBase, {
    position: 'right', axisLine: axisLineStyle, axisTick: innerTick,
    splitLine: { show: false }, axisLabel: { show: false }
  }));

  legends.push({
    data: seriesNames.map(name => ({ name, icon: 'rect' })),
    orient: 'vertical', left: p.legend[0], top: p.legend[1],
    backgroundColor: '#fff', borderColor: '#000', borderWidth: 2,
    padding: [3, 5, 3, 7], itemWidth: 33, itemHeight: 4, itemGap: p.legendGap,
    textStyle: { fontFamily: FONT, fontWeight: 'bold', fontSize: 17, color: '#000', lineHeight: 18 },
    selectedMode: false
  });

  seriesNames.forEach((name, s) => {
    series.push({
      name, type: 'line', xAxisIndex: 2 * i, yAxisIndex: 2 * i,
      data: trace(p.lo[s], p.band[s], p.hi[s]),
      symbol: 'none', showSymbol: false, smooth: false,
      lineStyle: { color: seriesColors[s], width: 2.8, join: 'round' },
      itemStyle: { color: seriesColors[s] },
      emphasis: { disabled: true }, silent: true
    });
  });

  graphics.push({
    type: 'text', left: p.tagPos[0], top: p.tagPos[1],
    style: { text: p.tag, font: "bold 25px " + FONT, fill: '#000' }
  });
});

const chart = echarts.init(document.getElementById('chart'), null, { renderer: 'canvas' });
chart.setOption({
  animation: false,
  backgroundColor: '#fff',
  grid: grids, xAxis: xAxes, yAxis: yAxes, legend: legends,
  series, graphic: graphics
});
</script>
</body>
</html>
